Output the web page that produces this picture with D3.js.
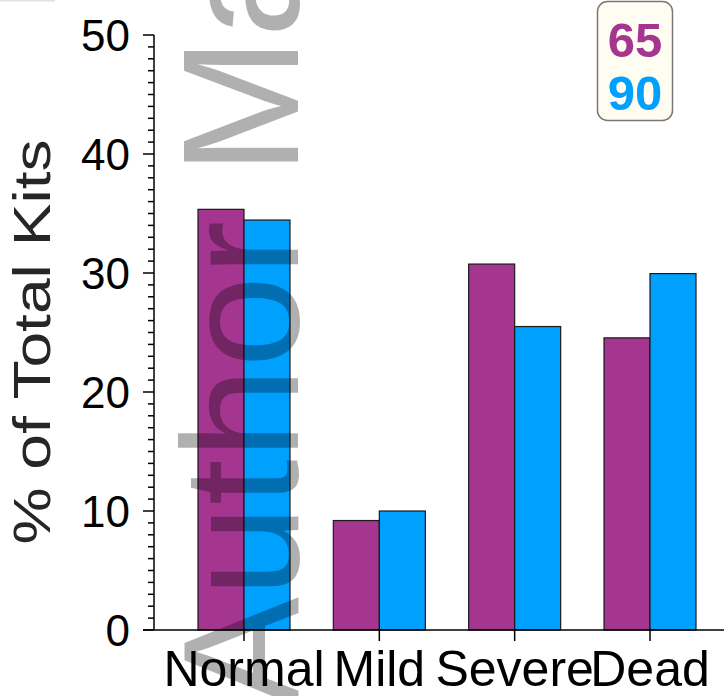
<!DOCTYPE html>
<html><head><meta charset="utf-8">
<script src="https://cdn.jsdelivr.net/npm/d3@7"></script>
<style>html,body{margin:0;padding:0;background:#fff}svg{display:block}</style>
</head><body>
<svg id="c" width="724" height="696"></svg>
<script>
const categories = ["Normal", "Mild", "Severe", "Dead"];
const seriesNames = ["65", "90"];
const values65 = [35.35, 9.2, 30.75, 24.55];
const values90 = [34.45, 10.0, 25.5, 29.95];
const yTicks = [0, 10, 20, 30, 40, 50];
const colors = ["#A4368F", "#00A0FF"];
const yTitle = "% of Total Kits";
const watermark = "Author Ma";

const svg = d3.select("#c");
const font = "Arial, 'Liberation Sans', sans-serif";

// faint artifact at top-left
svg.append("rect").attr("x", 0).attr("y", 0).attr("width", 55).attr("height", 1.5).attr("fill", "#e2e2e2");

const y = d3.scaleLinear().domain([0, 50]).range([630, 35]);
const x = d3.scalePoint().domain(categories).range([244, 650]);
const xs = d3.scaleBand().domain(seriesNames).range([-46, 46]).padding(0);

const data = categories.map((c, i) => ({cat: c, vals: [values65[i], values90[i]]}));

// bars
const g = svg.append("g");
data.forEach(d => {
  seriesNames.forEach((s, j) => {
    g.append("rect")
      .attr("x", x(d.cat) + xs(s))
      .attr("y", y(d.vals[j]))
      .attr("width", xs.bandwidth())
      .attr("height", y(0) - y(d.vals[j]))
      .attr("fill", colors[j])
      .attr("stroke", "#1a1a1a")
      .attr("stroke-width", 1.2);
  });
});

// y axis
const yAxisG = svg.append("g").attr("transform", "translate(154,0)");
yAxisG.append("line").attr("x1", 0).attr("x2", 0).attr("y1", y(50)).attr("y2", y(0)).attr("stroke", "#000").attr("stroke-width", 1.5);
d3.range(0, 51, 1).forEach(v => {
  const major = v % 10 === 0;
  yAxisG.append("line").attr("x1", major ? -11 : -6).attr("x2", 0)
    .attr("y1", y(v)).attr("y2", y(v)).attr("stroke", "#000").attr("stroke-width", 1.5);
});
yAxisG.selectAll("text.t").data(yTicks).enter().append("text")
  .attr("x", -24).attr("y", d => y(d)).attr("dy", "0.358em")
  .attr("text-anchor", "end").attr("font-family", font).attr("font-size", 44).attr("fill", "#000")
  .text(d => d);

// x axis
svg.append("line").attr("x1", 143).attr("x2", 724).attr("y1", y(0)).attr("y2", y(0)).attr("stroke", "#000").attr("stroke-width", 1.5);
categories.forEach(c => {
  svg.append("line").attr("x1", x(c)).attr("x2", x(c)).attr("y1", y(0)).attr("y2", y(0) + 11).attr("stroke", "#000").attr("stroke-width", 1.5);
  svg.append("text").attr("x", x(c)).attr("y", 686).attr("text-anchor", "middle")
    .attr("font-family", font).attr("font-size", 50).attr("fill", "#000").text(c);
});

// y title
svg.append("text")
  .attr("transform", "translate(50,342) rotate(-90)")
  .attr("text-anchor", "middle")
  .attr("font-family", font).attr("font-size", 52).attr("fill", "#262626")
  .attr("textLength", 405).attr("lengthAdjust", "spacingAndGlyphs")
  .text(yTitle);

// legend
const lg = svg.append("g");
lg.append("rect").attr("x", 597.5).attr("y", 1.5).attr("width", 75).attr("height", 119).attr("rx", 10)
  .attr("fill", "#FFFDF1").attr("stroke", "#777").attr("stroke-width", 1.5);
seriesNames.forEach((s, j) => {
  lg.append("text").attr("x", 635).attr("y", 57 + j * 53).attr("text-anchor", "middle")
    .attr("font-family", font).attr("font-weight", "bold").attr("font-size", 49)
    .attr("fill", colors[j]).text(s);
});

// watermark
svg.append("text")
  .attr("transform", "translate(298,707) rotate(-90)")
  .attr("font-family", font).attr("font-size", 165)
  .attr("fill", "#000").attr("fill-opacity", 0.31)
  .text(watermark);
</script>
</body></html>
